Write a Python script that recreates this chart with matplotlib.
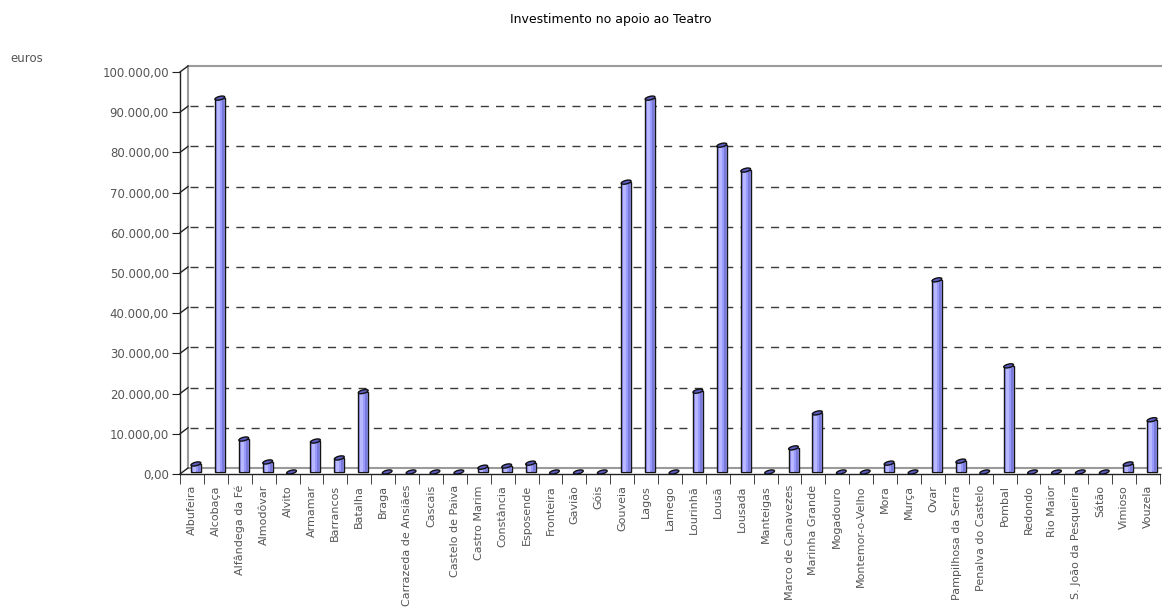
import numpy as np
import matplotlib
matplotlib.use("Agg")
import matplotlib.pyplot as plt
import matplotlib.transforms as mtransforms
from matplotlib.patches import Rectangle, Ellipse
from matplotlib.ticker import FuncFormatter

# Data
concelhos = ["Albufeira", "Alcobaça", "Alfândega da Fé", "Almodôvar", "Alvito",
             "Armamar", "Barrancos", "Batalha", "Braga", "Carrazeda de Ansiães",
             "Cascais", "Castelo de Paiva", "Castro Marim", "Constância", "Esposende",
             "Fronteira", "Gavião", "Góis", "Gouveia", "Lagos", "Lamego", "Lourinhã",
             "Lousã", "Lousada", "Manteigas", "Marco de Canavezes", "Marinha Grande",
             "Mogadouro", "Montemor-o-Velho", "Mora", "Murça", "Ovar",
             "Pampilhosa da Serra", "Penalva do Castelo", "Pombal", "Redondo",
             "Rio Maior", "S. João da Pesqueira", "Sátão", "Vimioso", "Vouzela"]
investimento = [2000, 93000, 8200, 2500, 0,
                7700, 3500, 20000, 0, 0,
                0, 0, 1200, 1500, 2200,
                0, 0, 0, 72100, 93000, 0, 20100,
                81300, 75100, 0, 6000, 14700,
                0, 0, 2200, 0, 47800,
                2700, 0, 26400, 0,
                0, 0, 0, 2000, 13000]
y_ticks = np.arange(0, 100001, 10000)

def fmt_pt(v, pos=None):
    s = "{:,.2f}".format(v)
    return s.replace(",", "X").replace(".", ",").replace("X", ".")

W, H = 1162, 608
fig = plt.figure(figsize=(W / 100, H / 100), dpi=100)
ax_l, ax_r, ax_b, ax_t = 180, 1160, 474, 72
ax = fig.add_axes([ax_l / W, 1 - ax_b / H, (ax_r - ax_l) / W, (ax_b - ax_t) / H])
n = len(concelhos)
ax.set_xlim(-0.5, n - 0.5)
ax.set_ylim(0, 100000)

# pixels per data unit, for the fake depth
sx = (ax_r - ax_l) / n
sy = (ax_b - ax_t) / 100000
dxu, dyu = 8 / sx, 6 / sy

wall = "#9a9a9a"
ax.plot([-0.5 + dxu, n - 0.5 + dxu], [100000 + dyu] * 2, color=wall, lw=1.5, clip_on=False, zorder=1)
ax.plot([-0.5 + dxu] * 2, [dyu, 100000 + dyu], color=wall, lw=1.5, clip_on=False, zorder=1)
ax.plot([-0.5 + dxu, n - 0.5 + dxu], [dyu, dyu], color=wall, lw=1.5, clip_on=False, zorder=1)
for v in y_ticks:
    ax.plot([-0.5, -0.5 + dxu], [v, v + dyu], color="#222222", lw=1, clip_on=False, zorder=2)
for v in y_ticks[1:-1]:
    ax.plot([-0.5 + dxu + 2 / sx, n - 0.5 + dxu], [v + dyu] * 2, color="#3a3a3a",
            lw=1, ls=(0, (5.8, 5.2)), clip_on=False, zorder=1)

# bars
ox, oy = 4 / sx, 2 / sy
bw = 10 / sx
for i, v in enumerate(investimento):
    if v > 0:
        ax.add_patch(Rectangle((i - bw / 2 + ox, oy), bw, v, facecolor="#9999ff",
                               edgecolor="#151515", lw=1, zorder=3, clip_on=False))
        ax.add_patch(Rectangle((i - bw / 2 + ox + 2 / sx, oy), 3 / sx, v,
                               facecolor="#b8b8ff", lw=0, zorder=3.1, clip_on=False))
        ax.add_patch(Rectangle((i + bw / 2 + ox - 3 / sx, oy), 2 / sx, v,
                               facecolor="#7a7ad8", lw=0, zorder=3.1, clip_on=False))
    tr = fig.dpi_scale_trans + mtransforms.ScaledTranslation(i + ox, v + oy, ax.transData)
    ax.add_patch(Ellipse((0, 0), 0.10, 0.035, angle=14, facecolor="#5c5cc0",
                         edgecolor="#111111", lw=1, transform=tr, zorder=4, clip_on=False))

# axes styling
for s in ["top", "right"]:
    ax.spines[s].set_visible(False)
for s in ["left", "bottom"]:
    ax.spines[s].set_color("#222222")
    ax.spines[s].set_linewidth(1)

ax.set_yticks(y_ticks)
ax.yaxis.set_major_formatter(FuncFormatter(fmt_pt))
ax.tick_params(axis="y", direction="out", length=6, color="#222222",
               labelcolor="#555555", labelsize=8.5, pad=2)

ax.set_xticks(np.arange(n))
ax.set_xticklabels(concelhos, rotation=90)
ax.set_xticks(np.arange(n + 1) - 0.5, minor=True)
ax.tick_params(axis="x", which="major", length=0, labelcolor="#555555", labelsize=8, pad=8)
ax.tick_params(axis="x", which="minor", direction="out", length=7, color="#222222")

fig.text(611 / W, 1 - 19 / H, "Investimento no apoio ao Teatro", ha="center", va="center",
         fontsize=9, color="#000000")
fig.text(10 / W, 1 - 58 / H, "euros", ha="left", va="center", fontsize=8.5, color="#555555")

fig.savefig("out.png", dpi=100)
